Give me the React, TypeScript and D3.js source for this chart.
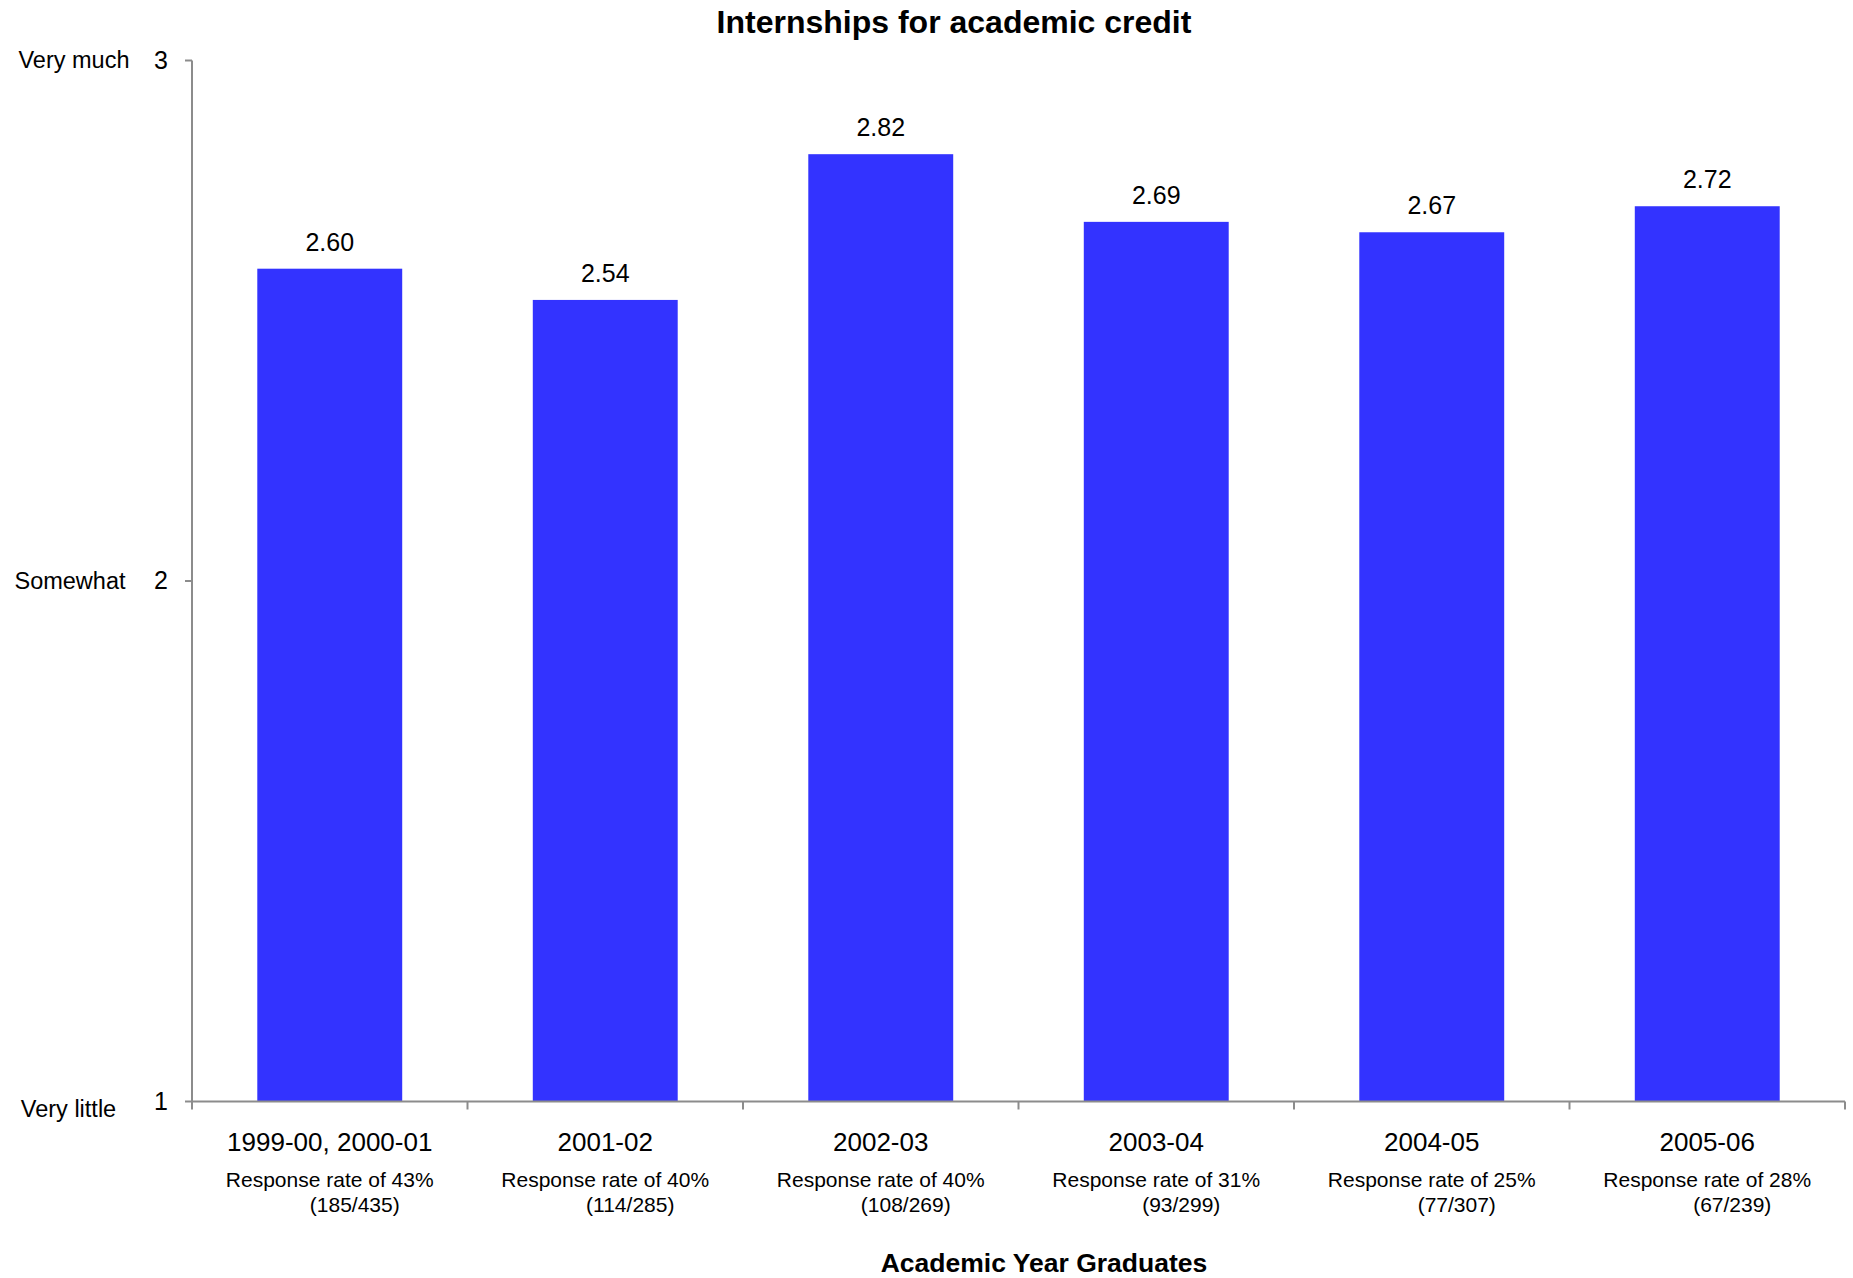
import React from "react";
import * as d3 from "d3";

const categories = ["1999-00, 2000-01", "2001-02", "2002-03", "2003-04", "2004-05", "2005-06"];
const values = [2.6, 2.54, 2.82, 2.69, 2.67, 2.72];
const responseRates = [
  "Response rate of 43%",
  "Response rate of 40%",
  "Response rate of 40%",
  "Response rate of 31%",
  "Response rate of 25%",
  "Response rate of 28%",
];
const responseCounts = ["(185/435)", "(114/285)", "(108/269)", "(93/299)", "(77/307)", "(67/239)"];
const yTicks = [1, 2, 3];
const yTickNames = ["Very little", "Somewhat", "Very much"];

const W = 1853;
const H = 1278;
const FONT = "'Liberation Sans', Arial, Helvetica, sans-serif";
const AXIS = "#8c8c8c";
const BAR = "#3333FF";

export default function App() {
  const left = 192;
  const right = 1845;
  const top = 60.5;
  const bottom = 1101.5;
  const pIn = 0.474;
  const x = d3.scaleBand<string>().domain(categories).range([left, right]).paddingInner(pIn).paddingOuter(pIn / 2);
  const y = d3.scaleLinear().domain([1, 3]).range([bottom, top]);
  const step = x.step();
  const cx = (c: string) => (x(c) as number) + x.bandwidth() / 2;
  const boundaries = d3.range(categories.length + 1).map((i) => left + i * step);

  return (
    <svg
      width={W}
      height={H}
      viewBox={`0 0 ${W} ${H}`}
      style={{ position: "absolute", left: 0, top: 0, display: "block", background: "#fff" }}
      fontFamily={FONT}
    >
      <rect x={0} y={0} width={W} height={H} fill="#fff" />
      <text x={954} y={33} textAnchor="middle" fontSize={32} fontWeight="bold" fill="#000">
        Internships for academic credit
      </text>

      {categories.map((c, i) => (
        <rect
          key={c}
          x={x(c)}
          y={y(values[i])}
          width={x.bandwidth()}
          height={y(1) - y(values[i])}
          fill={BAR}
        />
      ))}

      {categories.map((c, i) => (
        <text key={"v" + c} x={cx(c)} y={y(values[i]) - 18} textAnchor="middle" fontSize={25} fill="#000">
          {values[i].toFixed(2)}
        </text>
      ))}

      <line x1={left} x2={left} y1={top} y2={bottom} stroke={AXIS} strokeWidth={2} />
      {yTicks.map((t, i) => (
        <g key={"yt" + t}>
          <line x1={left - 7} x2={left} y1={y(t)} y2={y(t)} stroke={AXIS} strokeWidth={2} />
          <text x={168} y={y(t) + 8} textAnchor="end" fontSize={25} fill="#000">
            {t}
          </text>
          <text
            x={[68.5, 70, 74][i]}
            y={y(t) + (i === 0 ? 15.5 : 7.5)}
            textAnchor="middle"
            fontSize={23.5}
            fill="#000"
          >
            {yTickNames[i]}
          </text>
        </g>
      ))}

      <line x1={left} x2={right} y1={bottom} y2={bottom} stroke={AXIS} strokeWidth={2} />
      {boundaries.map((b, i) => (
        <line key={"xt" + i} x1={b} x2={b} y1={bottom} y2={bottom + 8} stroke={AXIS} strokeWidth={2} />
      ))}

      {categories.map((c, i) => (
        <g key={"xl" + c}>
          <text x={cx(c)} y={1151} textAnchor="middle" fontSize={26} fill="#000">
            {c}
          </text>
          <text x={cx(c)} y={1187} textAnchor="middle" fontSize={21} fill="#000">
            {responseRates[i]}
          </text>
          <text x={cx(c) + 25} y={1212} textAnchor="middle" fontSize={21} fill="#000">
            {responseCounts[i]}
          </text>
        </g>
      ))}

      <text x={1044} y={1272} textAnchor="middle" fontSize={26.5} fontWeight="bold" fill="#000">
        Academic Year Graduates
      </text>
    </svg>
  );
}
